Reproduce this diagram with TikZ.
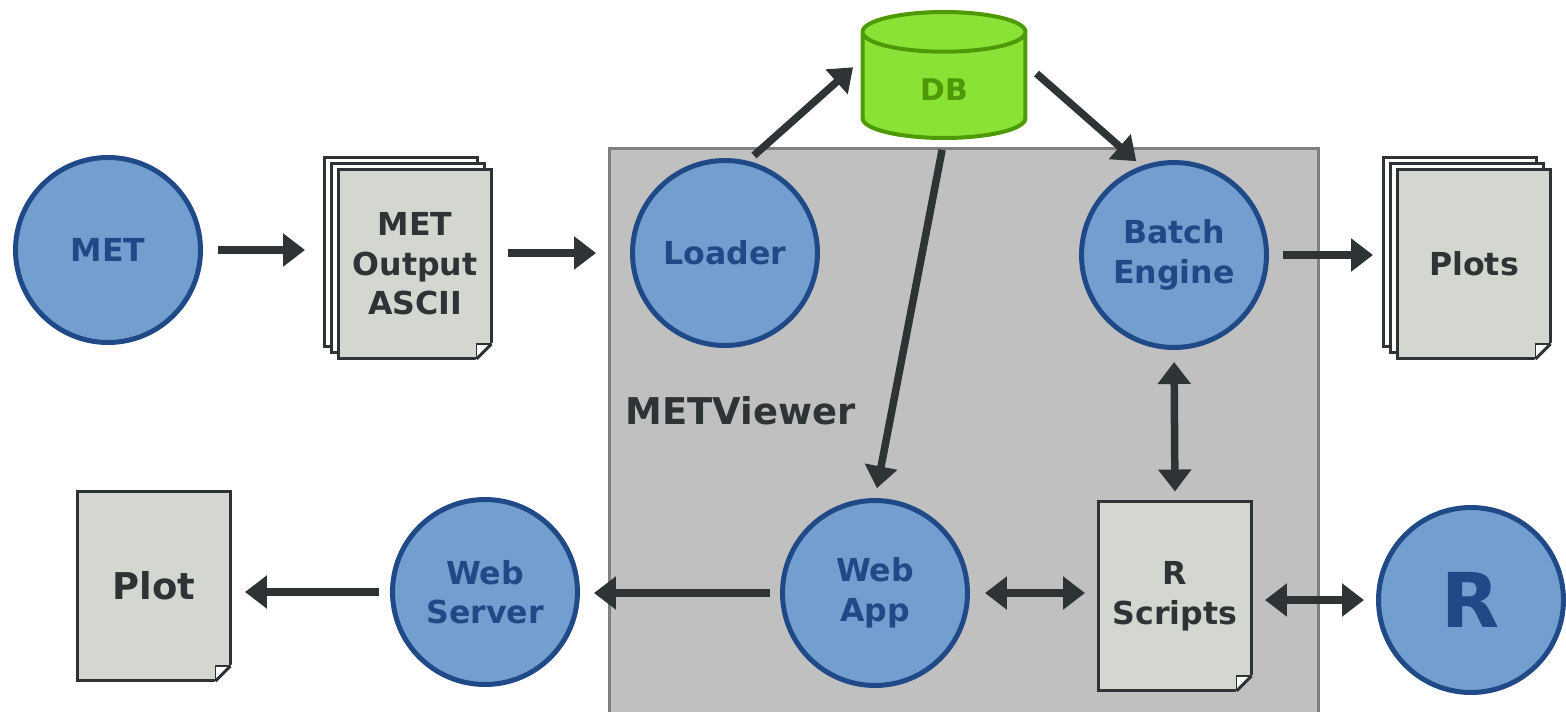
\documentclass[tikz,border=0pt]{standalone}
\usepackage{fontspec}
\setmainfont{DejaVu Sans}
\usepackage{tikz}
\usetikzlibrary{calc}
\usetikzlibrary{shapes.geometric,shadows,arrows.meta}
\definecolor{toolfill}{HTML}{729FCF}
\definecolor{toolline}{HTML}{204A87}
\definecolor{docfill}{HTML}{D3D7CF}
\definecolor{docline}{HTML}{2E3436}
\definecolor{dbfill}{HTML}{8AE234}
\definecolor{dbline}{HTML}{4E9A06}
\definecolor{viewerfill}{HTML}{C0C0C0}
\definecolor{viewerline}{HTML}{808080}
\tikzstyle{arrow}=
[line width=0.15cm,draw=docline,-{Triangle[length=0.44cm,width=0.64cm]}]
\tikzstyle{twoway}=
[arrow,{Triangle[length=0.44cm,width=0.64cm]}-{Triangle[length=0.44cm,width=0.64cm]}]
\tikzstyle{tool}=
[circle,minimum size=3.7cm,inner sep=0pt,fill=toolfill,draw=toolline,
line width=0.1cm,text=toolline,align=center,
font=\fontsize{18}{22.5}\selectfont\bfseries]
\tikzstyle{doc}=
[rectangle,minimum width=3.06cm,minimum height=3.8cm,inner sep=0pt,
fill=docfill,draw=docline,line width=0.06cm,text=docline,align=center,
font=\fontsize{18}{22.5}\selectfont\bfseries]
\tikzstyle{docstack}=
[doc,
copy shadow={shadow xshift=-0.28cm,shadow yshift=0.24cm,fill=white,draw=docline,line width=0.06cm},
copy shadow={shadow xshift=-0.14cm,shadow yshift=0.12cm,fill=white,draw=docline,line width=0.06cm}]
% folded corner of a sheet: #1 node, #2 colour behind it
\newcommand{\docfold}[2]{%
\coordinate (#1fold) at ($(#1.south east)+(-0.03cm,0.03cm)$);
\fill[#2]($(#1fold)+(-0.36cm,-0.06cm)$)--($(#1fold)+(0.06cm,-0.06cm)$)--($(#1fold)+(0.06cm,0.36cm)$)--cycle;
\filldraw[fill=white,draw=docline,line width=0.03cm]
($(#1fold)+(-0.3cm,0)$)--++(0,0.3cm)--++(0.3cm,0);
\draw[docline,line width=0.06cm]($(#1fold)+(-0.3cm,0)$)--($(#1fold)+(0,0.3cm)$);}

\begin{document}
\begin{tikzpicture}[x=0.02cm,y=-0.02cm]
\useasboundingbox (0,0) rectangle (1566,711);
\node (viewer)
[rectangle,
minimum width=14.18cm,
minimum height=11.4cm,
fill=viewerfill,
draw=viewerline,
line width=0.06cm]
at (964,433) {};
\node (viewerlabel)
[anchor=base west,
inner sep=0pt,
text=docline,
font=\fontsize{21}{25}\selectfont\bfseries]
at (625,424) {METViewer};
\node (MET) [tool] at (108,250) {MET};
\node (ASCII) [docstack] at (415,264) {MET\\Output\\ASCII};
\docfold{ASCII}{white}
\node (Loader) [tool] at (725,253) {Loader};
\node (DB)
[cylinder,
shape border rotate=90,
aspect=0.67,
minimum width=3.26cm,
minimum height=2.52cm,
anchor=shape center,
fill=dbfill,
draw=dbline,
line width=0.08cm,
text=dbline,
font=\fontsize{17}{20}\selectfont\bfseries]
at (944,75) {DB};
\node (Batch) [tool] at (1174,255) {Batch\\Engine};
\node (Plots) [docstack] at (1474,264) {Plots};
\docfold{Plots}{white}
\node (RScripts) [doc] at (1175,596) {R\\Scripts};
\docfold{RScripts}{viewerfill}
\node (R) [tool,font=\fontsize{43}{50}\selectfont\bfseries] at (1471,600) {R};
\node (WebApp) [tool] at (875,593) {Web\\App};
\node (WebServer) [tool] at (485,592) {Web\\Server};
\node (Plot) [doc,font=\fontsize{21}{25}\selectfont\bfseries] at (154,586) {Plot};
\docfold{Plot}{white}
\draw[arrow,shorten <=0.3cm,shorten >=0.64cm](MET.east)--(MET.east -| ASCII.west);
\draw[arrow,shorten <=0.3cm,shorten >=0.68cm](ASCII.east |- Loader.west)--(Loader.west);
\draw[arrow,shorten <=0.16cm,shorten >=0.2cm](Loader.76)--([yshift=0.58cm]DB.west);
\draw[arrow,shorten <=0.24cm,shorten >=0.14cm]([yshift=0.48cm]DB.east)--(Batch.110);
\draw[arrow,shorten <=0.2cm,shorten >=0.2cm](DB.south)--(WebApp.north);
\draw[arrow,shorten <=0.28cm,shorten >=0.46cm](Batch.east)--(Batch.east -| Plots.west);
\draw[twoway,shorten <=0.24cm,shorten >=0.16cm](Batch.south)--(RScripts.north);
\draw[twoway,shorten <=0.3cm,shorten >=0.24cm](WebApp.east)--(WebApp.east -| RScripts.west);
\draw[twoway,shorten <=0.24cm,shorten >=0.24cm](R.west -| RScripts.east)--(R.west);
\draw[arrow,shorten <=0.2cm,shorten >=0.28cm](WebApp.west)--(WebApp.west -| WebServer.east);
\draw[arrow,shorten <=0.22cm,shorten >=0.26cm](WebServer.west)--(WebServer.west -| Plot.east);
\end{tikzpicture}
\end{document}
